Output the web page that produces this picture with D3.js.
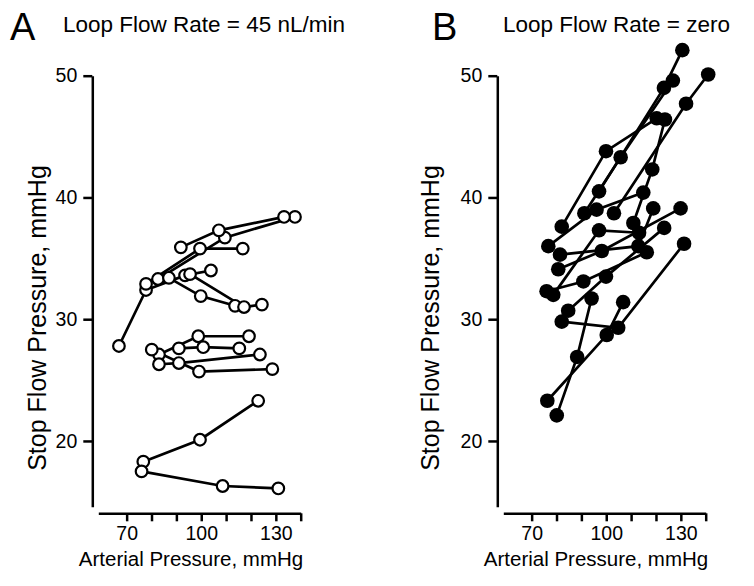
<!DOCTYPE html>
<html>
<head>
<meta charset="utf-8">
<script src="https://cdn.jsdelivr.net/npm/d3@7"></script>
<style>
  html, body { margin: 0; padding: 0; background: #fff; }
  svg { display: block; }
  text { font-family: "Liberation Sans", Arial, Helvetica, sans-serif; fill: #000; }
</style>
</head>
<body>
<svg id="chart" width="754" height="586"></svg>
<script>
// ---- Data (arterial pressure mmHg, stop flow pressure mmHg), one polyline per nephron ----
const loop45Nephrons = [
  [[76.7,18.3],[99.5,20.1],[122.9,23.3]],
  [[76.0,17.5],[108.6,16.3],[131.0,16.1]],
  [[66.9,27.8],[77.8,32.4],[93.5,33.6],[103.9,34.0]],
  [[77.8,32.9],[99.5,35.8],[116.7,35.8]],
  [[82.6,33.3],[109.5,36.7],[137.7,38.4]],
  [[91.8,35.9],[107.1,37.3],[133.3,38.4]],
  [[87.0,33.4],[99.8,31.9],[113.6,31.1]],
  [[95.5,33.7],[117.2,31.0],[124.4,31.2]],
  [[83.0,27.1],[98.8,28.6],[119.2,28.6]],
  [[80.1,27.5],[99.1,25.7],[128.6,25.9]],
  [[83.0,26.3],[91.0,26.4],[123.6,27.1]],
  [[91.0,27.6],[100.8,27.7],[115.3,27.6]]
];
const loopZeroNephrons = [
  [[80.1,22.1],[88.3,26.9],[94.1,31.7]],
  [[76.3,23.3],[100.2,28.7],[106.8,31.4]],
  [[82.1,29.8],[104.8,29.3],[131.3,36.2]],
  [[84.7,30.7],[99.9,33.5],[123.3,37.5]],
  [[76.0,32.3],[90.8,33.1],[116.3,35.5]],
  [[78.7,32.0],[97.1,37.3],[113.2,37.1]],
  [[80.7,34.1],[98.2,35.6],[129.9,39.1]],
  [[81.4,35.3],[112.9,36.0],[118.9,39.1]],
  [[76.7,36.0],[96.1,39.0],[114.9,40.4]],
  [[82.1,37.6],[99.9,43.8],[120.3,46.5]],
  [[91.2,38.7],[105.8,43.3],[126.8,49.6]],
  [[97.1,40.5],[123.2,49.0],[130.6,52.1]],
  [[103.1,38.7],[132.1,47.7],[141.0,50.1]],
  [[110.9,37.9],[118.5,42.3],[123.6,46.4]]
];
const xTickValues = [70, 80, 90, 100, 110, 120, 130, 140];
const xTickLabels = {70: "70", 100: "100", 130: "130"};
const yTickValues = [20, 30, 40, 50];
const panelLetters = ["A", "B"];
const panelTitles = ["Loop Flow Rate = 45 nL/min", "Loop Flow Rate = zero"];
const xTitle = "Arterial Pressure, mmHg";
const yTitle = "Stop Flow Pressure, mmHg";

// ---- Drawing ----
const svg = d3.select("#chart");
const panels = [
  {data: loop45Nephrons, dx: 0, filled: false, letterX: 10, titleX: 63, yTitleX: 46},
  {data: loopZeroNephrons, dx: 405, filled: true, letterX: 432, titleX: 503, yTitleX: 439}
];

const y = d3.scaleLinear().domain([14.6, 50]).range([506.7, 75.7]);

panels.forEach((p, i) => {
  const x = d3.scaleLinear().domain([58.6, 140]).range([98.3 + p.dx, 300.7 + p.dx]);
  const g = svg.append("g");
  const yAxisX = 92.3 + p.dx;
  const xAxisY = 513.3;

  // y axis
  const yAxis = d3.axisLeft(y).tickValues(yTickValues).tickSize(9).tickSizeOuter(0).tickPadding(6)
    .tickFormat(d3.format("d"));
  const ya = g.append("g").attr("transform", `translate(${yAxisX},0)`).call(yAxis);
  ya.select(".domain").attr("stroke", "#000").attr("stroke-width", 2.5);
  ya.selectAll(".tick line").attr("stroke", "#000").attr("stroke-width", 2.5);
  ya.selectAll(".tick text").attr("font-size", 19.5).attr("font-family", "Liberation Sans, Arial, sans-serif");

  // x axis
  const xAxis = d3.axisBottom(x).tickValues(xTickValues).tickSize(8).tickSizeOuter(0).tickPadding(5)
    .tickFormat(d => xTickLabels[d] || "");
  const xa = g.append("g").attr("transform", `translate(0,${xAxisY})`).call(xAxis);
  xa.select(".domain").attr("stroke", "#000").attr("stroke-width", 2.5);
  xa.selectAll(".tick line").attr("stroke", "#000").attr("stroke-width", 2.5);
  xa.selectAll(".tick text").attr("font-size", 19.5).attr("font-family", "Liberation Sans, Arial, sans-serif");

  // titles
  g.append("text").attr("x", p.letterX).attr("y", 40).attr("font-size", 38).text(panelLetters[i]);
  g.append("text").attr("x", p.titleX).attr("y", 32).attr("font-size", 22.5).text(panelTitles[i]);
  g.append("text").attr("x", 191 + p.dx).attr("y", 566)
    .attr("text-anchor", "middle").attr("font-size", 20.5).text(xTitle);
  g.append("text").attr("transform", `translate(${p.yTitleX},318) rotate(-90)`)
    .attr("text-anchor", "middle").attr("font-size", 25).text(yTitle);

  // lines
  const line = d3.line().x(d => x(d[0])).y(d => y(d[1]));
  g.append("g").selectAll("path").data(p.data).join("path")
    .attr("d", line).attr("fill", "none").attr("stroke", "#000").attr("stroke-width", 2.7);

  // points
  const pts = p.data.flat();
  g.append("g").selectAll("circle").data(pts).join("circle")
    .attr("cx", d => x(d[0])).attr("cy", d => y(d[1]))
    .attr("r", p.filled ? 7.3 : 5.8)
    .attr("fill", p.filled ? "#000" : "#fff")
    .attr("stroke", "#000").attr("stroke-width", p.filled ? 0 : 2.2);
});
</script>
</body>
</html>
